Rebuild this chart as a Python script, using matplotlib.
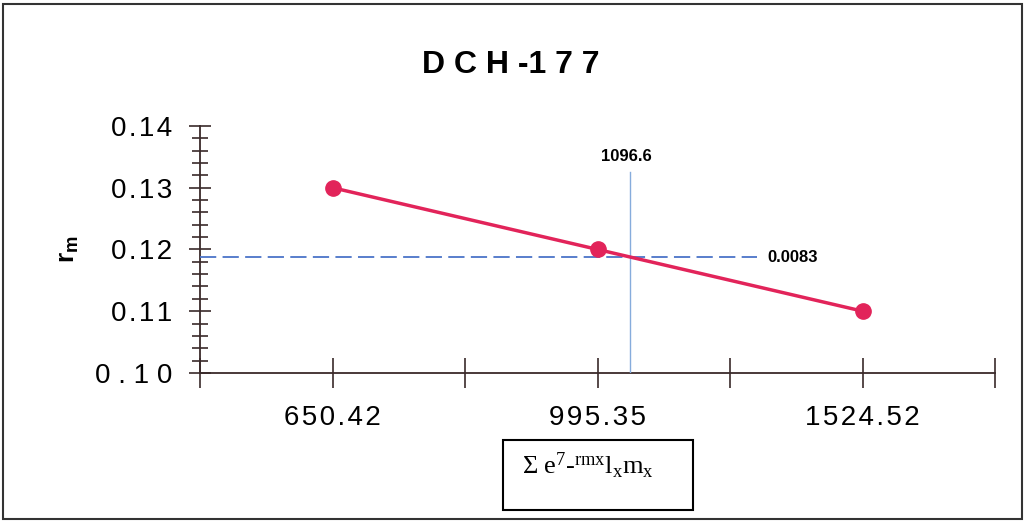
import matplotlib.pyplot as plt
from matplotlib.patches import Rectangle
from matplotlib.ticker import MultipleLocator

# datos de la serie
categorias = ["650.42", "995.35", "1524.52"]
rm = [0.13, 0.12, 0.11]
rm_ticks = [0.10, 0.11, 0.12, 0.13, 0.14]

# valor de corte (x en posicion de categoria, y en rm)
corte_x = 1.12
corte_y = 0.1187
etiqueta_x = "1096.6"
etiqueta_y = "0.0083"

plt.rcParams['font.family'] = ['Liberation Sans', 'DejaVu Sans']
plt.rcParams['mathtext.fontset'] = 'custom'
plt.rcParams['mathtext.rm'] = 'Liberation Serif'
plt.rcParams['mathtext.it'] = 'Liberation Serif:italic'
plt.rcParams['mathtext.bf'] = 'Liberation Sans:bold'

HAIR = "\u200a"


def espaciar(s):
    return HAIR.join(s)


fig = plt.figure(figsize=(10.27, 5.23), dpi=100)
ax = fig.add_axes([0.195, 0.287, 0.774, 0.472])

x = list(range(len(categorias)))
ax.plot(x, rm, color='#e2245a', lw=2.5, marker='o', ms=11, zorder=4)

# lineas de referencia
ax.plot([-0.5, 1.6], [corte_y, corte_y], color='#4b74c8', lw=1.3,
        dashes=(9, 3.5), zorder=3)
ax.plot([corte_x, corte_x], [0.10, 0.1325], color='#86acdc', lw=1.0, zorder=3)
ax.text(corte_x - 0.01, 0.1338, etiqueta_x, ha='center', va='bottom',
        fontsize=12, fontweight='bold')
ax.text(1.64, corte_y, etiqueta_y, ha='left', va='center',
        fontsize=12, fontweight='bold')

ax.set_xlim(-0.5, 2.5)
ax.set_ylim(0.10, 0.14)

ax.spines['top'].set_visible(False)
ax.spines['right'].set_visible(False)
for lado in ('left', 'bottom'):
    ax.spines[lado].set_linewidth(1.3)
    ax.spines[lado].set_color('#3a2a2a')

ax.set_xticks([-0.5, 0, 0.5, 1, 1.5, 2, 2.5])
ax.set_xticklabels([""] + sum([[espaciar(c), ""] for c in categorias], []))
ax.tick_params(axis='x', direction='inout', length=22, width=1.2,
               color='#3a2a2a', labelsize=20, pad=12)

ax.yaxis.set_minor_locator(MultipleLocator(0.002))
ax.set_yticks(rm_ticks)
ax.set_yticklabels(["0 . 1 0"] + [espaciar(f"{v:.2f}") for v in rm_ticks[1:]])
ax.tick_params(axis='y', which='major', direction='inout', length=16, width=1.2,
               color='#3a2a2a', labelsize=20, pad=12)
ax.tick_params(axis='y', which='minor', direction='inout', length=12, width=1.2,
               color='#3a2a2a')

ax.set_ylabel(r"$\mathbf{r_m}$", fontsize=19, labelpad=10)

fig.suptitle("D C H -1 7 7", x=0.497, y=0.905, fontsize=23, fontweight='bold')

# caja del eje x
fig.patches.append(Rectangle((503 / 1027, 1 - 510 / 523), 190 / 1027, 70 / 523,
                             transform=fig.transFigure, fill=False,
                             lw=1.5, ec='black'))
fig.text(522 / 1027, 1 - 466 / 523,
         r"$\Sigma\ \mathrm{e}^{7}\text{-}^{\mathrm{rmx}}\mathrm{l}_{\mathrm{x}}\mathrm{m}_{\mathrm{x}}$",
         fontsize=19, va='center', ha='left')

# marco exterior
fig.patches.append(Rectangle((3 / 1027, 4 / 523), 1019 / 1027, 515 / 523,
                             transform=fig.transFigure, fill=False,
                             lw=1.5, ec='#333333'))

fig.savefig("out.png", dpi=100)
